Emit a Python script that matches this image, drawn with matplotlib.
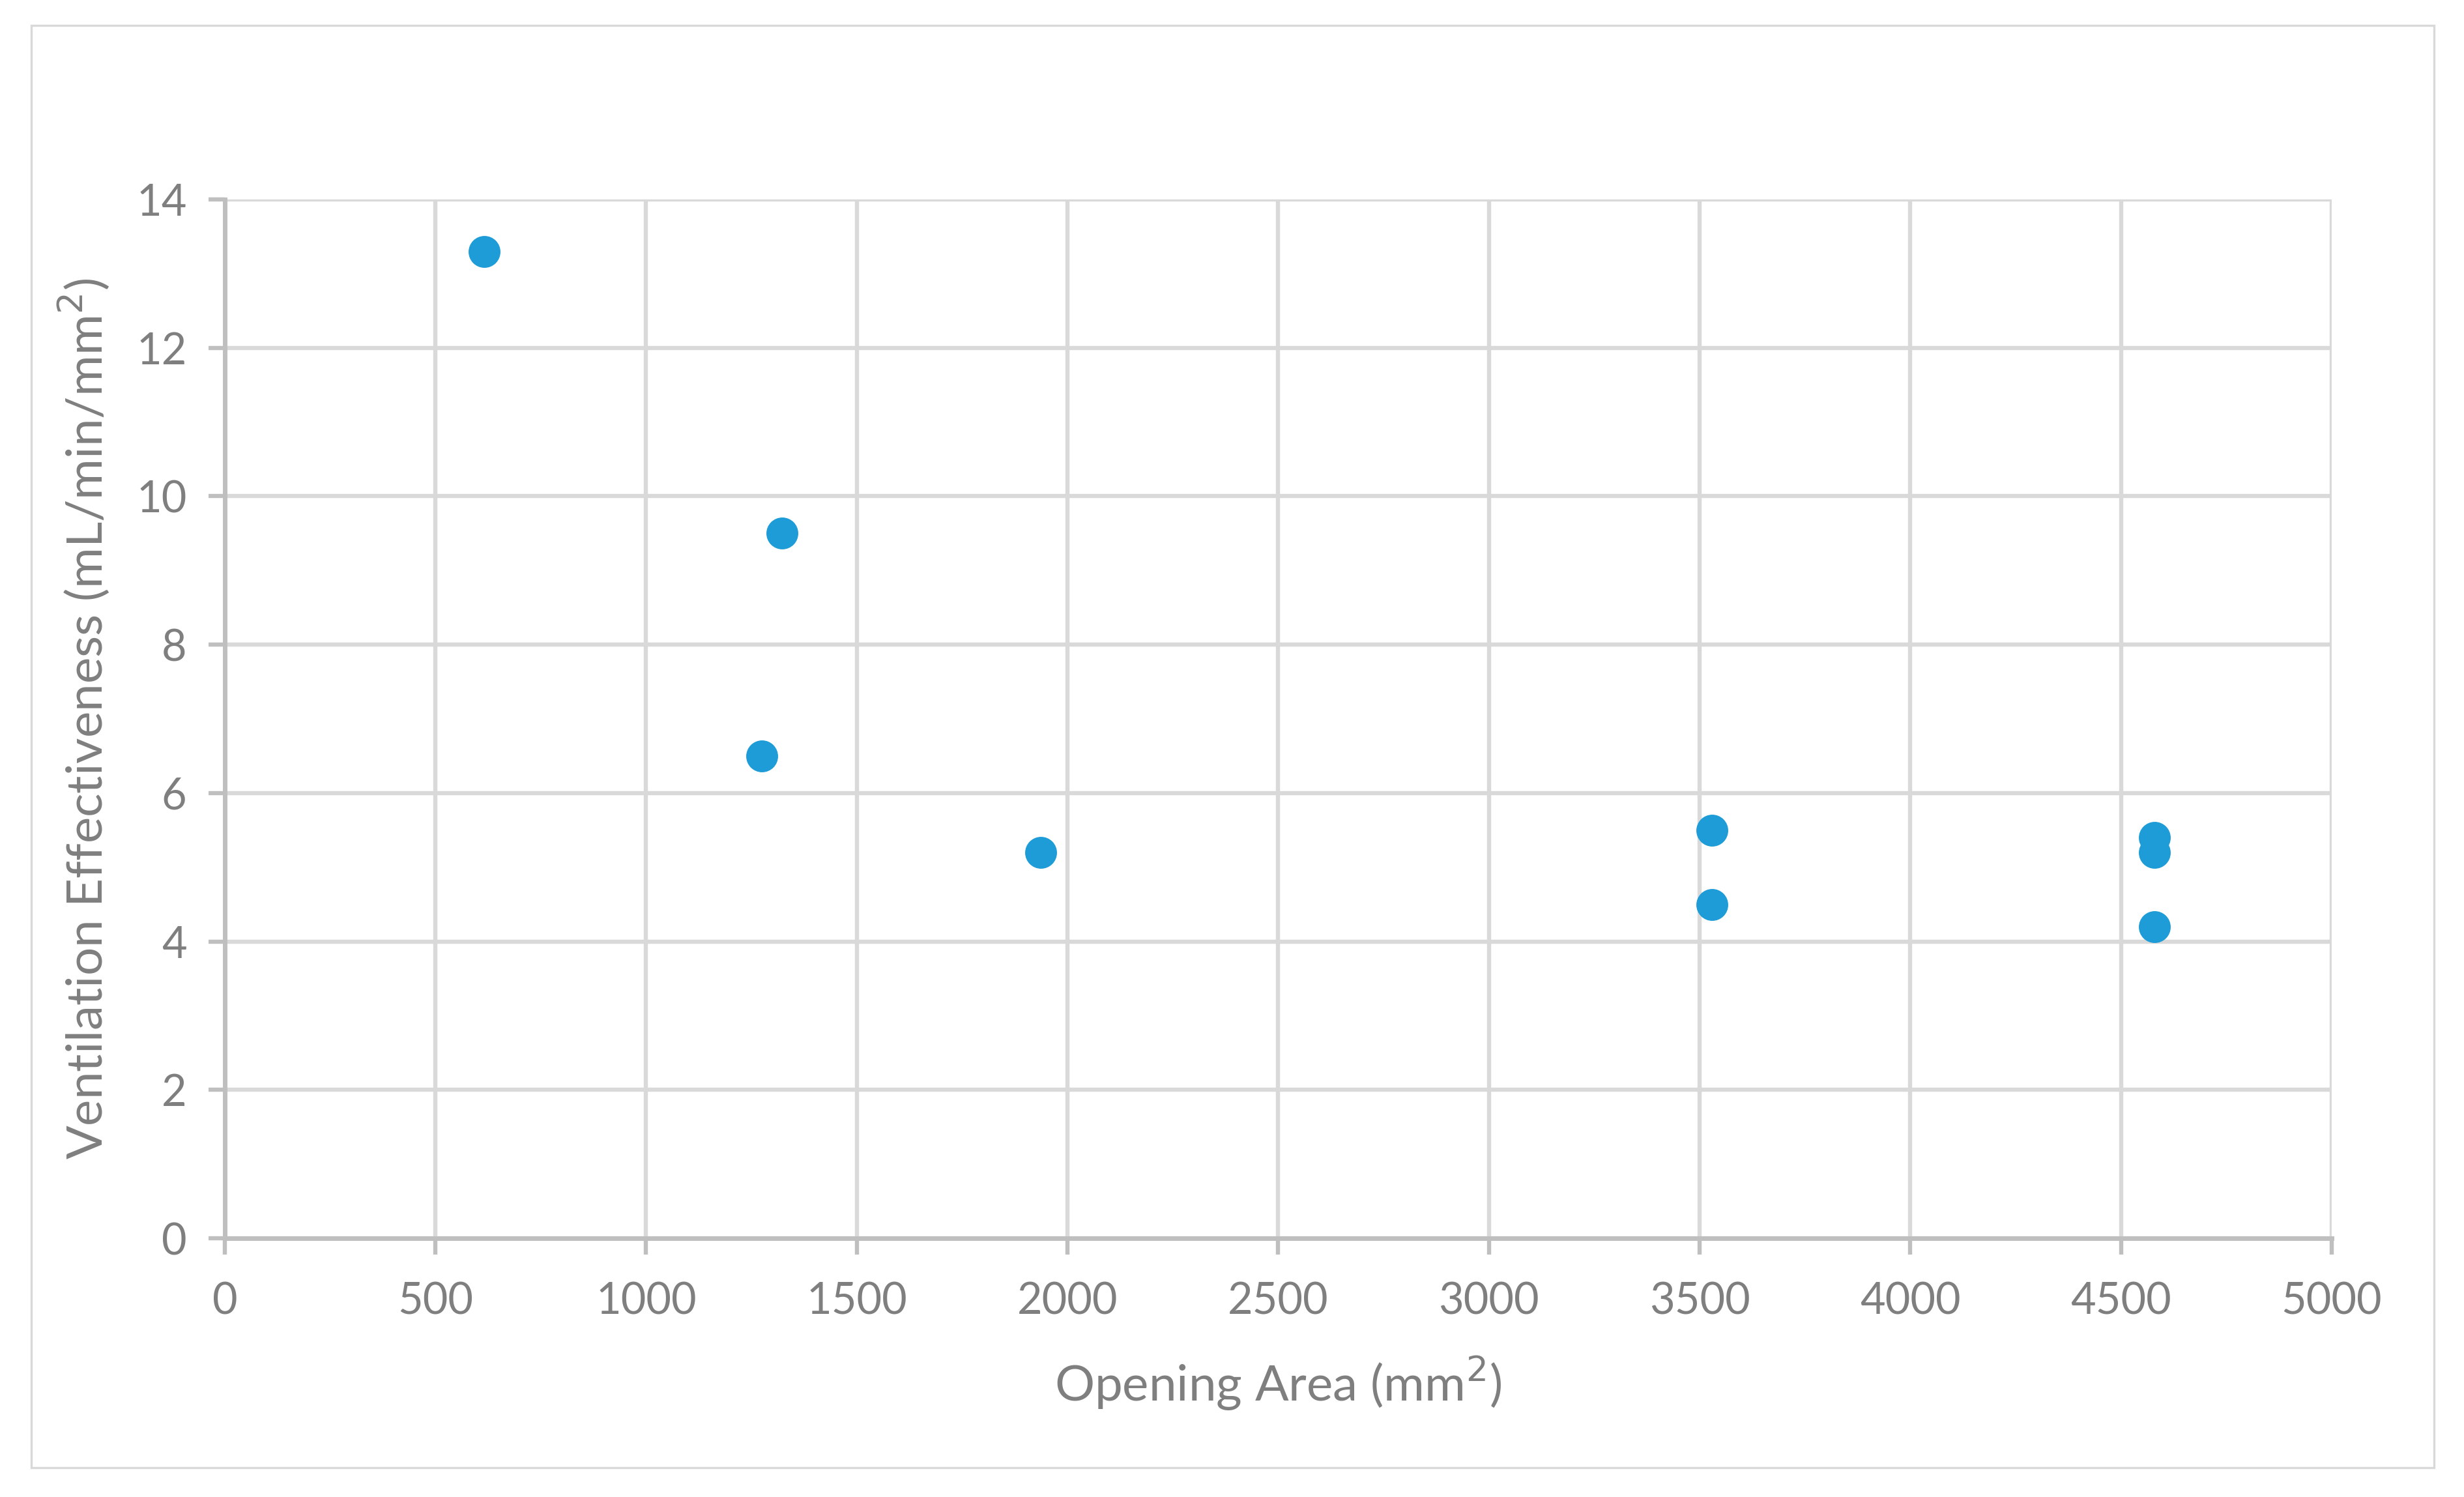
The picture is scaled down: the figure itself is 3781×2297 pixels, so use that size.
import matplotlib
matplotlib.use('Agg')
from matplotlib import pyplot as plt
from matplotlib.patches import Rectangle

# data
opening_area = [615, 1322, 1274, 1937, 3530, 3530, 4580, 4580, 4580]
effectiveness = [13.3, 9.5, 6.5, 5.2, 5.5, 4.5, 5.4, 5.2, 4.2]

x_ticks = [0, 500, 1000, 1500, 2000, 2500, 3000, 3500, 4000, 4500, 5000]
y_ticks = [0, 2, 4, 6, 8, 10, 12, 14]

text_grey = '#7F7F7F'
plt.rcParams['font.family'] = ['Lato', 'DejaVu Sans']

fig = plt.figure(figsize=(18.905, 11.485), dpi=200)
ax = fig.add_axes([0.0912, 0.1728, 0.8551, 0.6940])

ax.scatter(opening_area, effectiveness, s=310, color='#1E9CD7', zorder=3, linewidths=0)

ax.set_xlim(0, 5000)
ax.set_ylim(0, 14)
ax.set_xticks(x_ticks)
ax.set_yticks(y_ticks)
ax.grid(True, color='#D9D9D9', linewidth=2.3)
ax.set_axisbelow(True)

for s in ['top', 'right']:
    ax.spines[s].set_visible(False)
for s in ['left', 'bottom']:
    ax.spines[s].set_color('#BFBFBF')
    ax.spines[s].set_linewidth(2.5)
    ax.spines[s].set_zorder(2)

ax.tick_params(axis='both', colors='#BFBFBF', length=9, width=2.3, labelsize=24,
               labelcolor=text_grey)
ax.tick_params(axis='x', pad=15)
ax.tick_params(axis='y', pad=12)

ax.set_xlabel('Opening Area (mm$^2$)', fontsize=27.5, color=text_grey, labelpad=18)
ax.set_ylabel('Ventilation Effectiveness (mL/min/mm$^2$)', fontsize=27.5, color=text_grey, labelpad=14)

# light border round the whole chart
fig.patches.append(Rectangle((48 / 3781, 1 - 2252 / 2297), (3735 - 48) / 3781, (2252 - 39) / 2297,
                             transform=fig.transFigure, fill=False, edgecolor='#D9D9D9', linewidth=1.2))

fig.savefig('out.png', dpi=200, facecolor='white')
